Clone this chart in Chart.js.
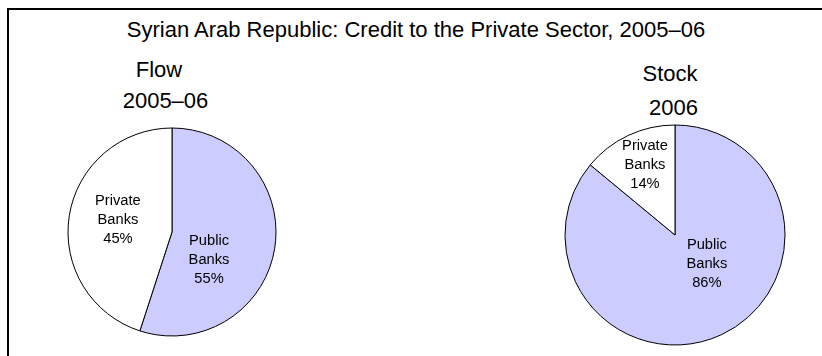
<!DOCTYPE html>
<html>
<head>
<meta charset="utf-8">
<script src="https://cdn.jsdelivr.net/npm/chart.js@4/dist/chart.umd.min.js"></script>
<style>
  html, body { margin: 0; padding: 0; background: #fff; }
  #stage { position: relative; width: 822px; height: 356px; overflow: hidden; background: #fff;
           font-family: Arial, "Liberation Sans", sans-serif; color: #000; }
  #frame { position: absolute; left: 7px; top: 8px; width: 830px; height: 360px;
           border-left: 2px solid #000; border-top: 2px solid #000; }
  .txt { position: absolute; font-size: 22px; line-height: 22px; white-space: nowrap;
         transform: translateX(-50%); }
  canvas { position: absolute; }
</style>
</head>
<body>
<div id="stage">
  <div id="frame"></div>
  <div class="txt" style="left:416px; top:18.5px;">Syrian Arab Republic: Credit to the Private Sector, 2005–06</div>
  <div class="txt" style="left:159px; top:58.5px;">Flow</div>
  <div class="txt" style="left:165.5px; top:89.5px;">2005–06</div>
  <div class="txt" style="left:670px; top:62.5px;">Stock</div>
  <div class="txt" style="left:673.5px; top:96.5px;">2006</div>
  <canvas id="flowPie" width="240" height="240" style="left:52px; top:112px;"></canvas>
  <canvas id="stockPie" width="240" height="240" style="left:555px; top:115px;"></canvas>
</div>
<script>
// Bank groups and their share of credit to the private sector (%)
const categories = ['Public Banks', 'Private Banks'];
const flowShares = [55, 45];   // flow, 2005–06
const stockShares = [86, 14];  // stock, 2006

const sliceColors = ['#CCCCFF', '#FFFFFF'];

// Where each slice label sits, as a fraction of the pie radius from its centre
const flowLabelSpots = [[0.356, 0.27], [-0.52, -0.115]];
const stockLabelSpots = [[0.29, 0.264], [-0.273, -0.636]];

// Writes "Public / Banks / 55%" style labels inside the slices
const sliceLabels = {
  id: 'sliceLabels',
  afterDatasetsDraw(chart, args, opts) {
    const ctx = chart.ctx;
    const meta = chart.getDatasetMeta(0);
    const values = chart.data.datasets[0].data;
    ctx.save();
    ctx.font = '14.7px Arial, "Liberation Sans", sans-serif';
    ctx.fillStyle = '#000';
    ctx.textAlign = 'center';
    ctx.textBaseline = 'middle';
    meta.data.forEach((arc, i) => {
      const r = arc.outerRadius;
      const [fx, fy] = opts.spots[i];
      const cx = arc.x + fx * r;
      const cy = arc.y + fy * r;
      const lines = chart.data.labels[i].split(' ').concat([values[i] + '%']);
      const lh = 18.7;
      lines.forEach((t, k) => {
        ctx.fillText(t, cx, cy + (k - (lines.length - 1) / 2) * lh);
      });
    });
    ctx.restore();
  }
};

function makePie(id, values, radius, spots) {
  return new Chart(document.getElementById(id), {
    type: 'pie',
    data: {
      labels: categories,
      datasets: [{
        data: values,
        backgroundColor: sliceColors,
        borderColor: '#000',
        borderWidth: 1,
        radius: radius
      }]
    },
    options: {
      responsive: false,
      animation: false,
      devicePixelRatio: 1,
      rotation: 0,
      layout: { padding: 0 },
      plugins: {
        legend: { display: false },
        tooltip: { enabled: false },
        sliceLabels: { spots: spots }
      }
    },
    plugins: [sliceLabels]
  });
}

makePie('flowPie', flowShares, 104, flowLabelSpots);
makePie('stockPie', stockShares, 110, stockLabelSpots);
</script>
</body>
</html>
